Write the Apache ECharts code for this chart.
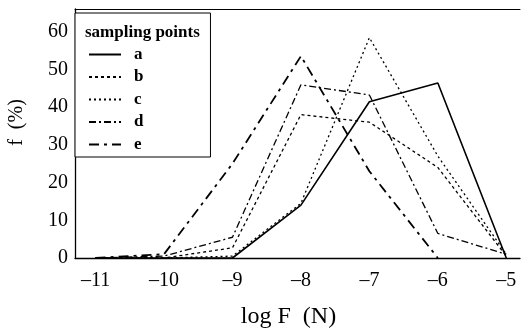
<!DOCTYPE html>
<html>
<head>
<meta charset="utf-8">
<script src="https://cdn.jsdelivr.net/npm/echarts@6/dist/echarts.min.js"></script>
<style>
  html, body { margin: 0; padding: 0; background: #fff; }
  #main { width: 521px; height: 329px; }
</style>
</head>
<body>
<div id="main"></div>
<script>
// log F values (x) and f (%) per sampling point
var logF = [-11, -10, -9, -8, -7, -6, -5];
var seriesA = [0, 0, 0, 14, 41.4, 46.4, 0];
var seriesB = [0, 0, 2.7, 38, 36, 24, 0.5];
var seriesC = [0, 0, 0.5, 14.5, 58.4, 27, 1];
var seriesD = [0, 0.5, 5.5, 45.9, 43.2, 6.5, 1];
var seriesE = [0, 1, 25, 53.5, 23, 0, null];
var names = ["a", "b", "c", "d", "e"];
var xTicks = [-11, -10, -9, -8, -7, -6, -5];

var font = "Liberation Serif";
var chart = echarts.init(document.getElementById("main"));

function pts(vals) {
  return logF.map(function (x, i) { return [x, vals[i]]; }).filter(function (p) { return p[1] != null; });
}

// line styles: solid, dashed, dotted, dash-dot, long dash-dot
var styles = [
  { width: 1.6, type: "solid" },
  { width: 1.3, type: [3, 3] },
  { width: 1.3, type: [2, 3] },
  { width: 1.3, type: [7, 3, 2, 3] },
  { width: 1.8, type: [10, 5, 3, 5] }
];
var allData = [seriesA, seriesB, seriesC, seriesD, seriesE];

chart.setOption({
  backgroundColor: "#fff",
  animation: false,
  title: {
    text: "sampling points",
    left: 80,
    top: 19,
    textStyle: { fontFamily: font, fontSize: 17, fontWeight: "bold", color: "#000" }
  },
  legend: {
    data: names,
    orient: "vertical",
    left: 75,
    top: 13,
    padding: [33, 67, 4, 13],
    itemWidth: 32,
    itemHeight: 12,
    itemGap: 5.5,
    borderColor: "#000",
    borderWidth: 1,
    backgroundColor: "#fff",
    itemStyle: { opacity: 0 },
    textStyle: { fontFamily: font, fontSize: 17, fontWeight: "bold", color: "#000", padding: [0, 0, 0, 8] }
  },
  grid: { left: 75, top: 9, right: 1, bottom: 71, outerBoundsMode: "none", containLabel: false },
  xAxis: [
    {
      type: "value",
      min: -11.3,
      max: -4.8,
      name: "log F  (N)",
      nameLocation: "middle",
      nameGap: 47,
      nameTextStyle: { fontFamily: font, fontSize: 24, color: "#000", padding: [0, 18, 0, 0] },
      axisLine: { lineStyle: { color: "#000", width: 1.3 } },
      axisTick: { show: false },
      splitLine: { show: false },
      axisLabel: {
        customValues: xTicks,
        fontFamily: font,
        fontSize: 20,
        color: "#000",
        margin: 13,
        formatter: function (v) { return String(v).replace("-", "\u2013"); }
      }
    },
    {
      type: "value",
      position: "top",
      min: -11.3,
      max: -4.8,
      axisLine: { show: true, lineStyle: { color: "#000", width: 1 } },
      axisTick: { show: false },
      axisLabel: { show: false },
      splitLine: { show: false }
    }
  ],
  yAxis: {
    type: "value",
    min: 0,
    max: 66,
    interval: 10,
    name: "f  (%)",
    nameLocation: "middle",
    nameGap: 48,
    nameTextStyle: { fontFamily: font, fontSize: 20, color: "#000", padding: [0, 0, 0, 22] },
    axisLine: { show: true, lineStyle: { color: "#000", width: 1.3 } },
    axisTick: { show: false },
    splitLine: { show: false },
    axisLabel: {
      fontFamily: font,
      fontSize: 20,
      color: "#000",
      margin: 7,
      showMaxLabel: false
    }
  },
  series: allData.map(function (vals, i) {
    return {
      name: names[i],
      type: "line",
      data: pts(vals),
      symbol: "none",
      color: "#000",
      lineStyle: { color: "#000", width: styles[i].width, type: styles[i].type }
    };
  })
});
</script>
</body>
</html>
